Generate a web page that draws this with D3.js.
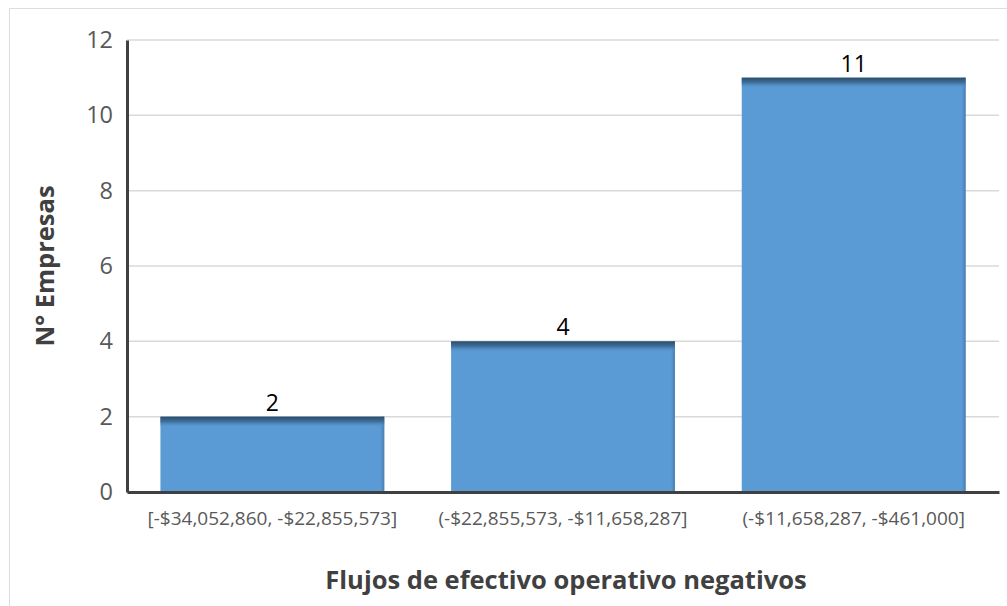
<!DOCTYPE html>
<html>
<head>
<meta charset="utf-8">
<script src="https://cdn.jsdelivr.net/npm/d3@7"></script>
<style>
  body { margin: 0; background: #fff; }
  svg { font-family: "Open Sans", "Noto Sans", sans-serif; }
</style>
</head>
<body>
<div id="chart"></div>
<script>
const categories = ['[-$34,052,860, -$22,855,573]', '(-$22,855,573, -$11,658,287]', '(-$11,658,287, -$461,000]'];
const counts = [2, 4, 11];
const yTicks = [0, 2, 4, 6, 8, 10, 12];
const xTitle = 'Flujos de efectivo operativo negativos';
const yTitle = 'N° Empresas';

const width = 1007,
    height = 606,
    margin = { top: 40, right: 8, bottom: 114, left: 127 },
    innerWidth = width - margin.left - margin.right,
    innerHeight = height - margin.top - margin.bottom;

const svg = d3.select('#chart').append('svg')
    .attr('width', width)
    .attr('height', height);

// outer frame
svg.append('path')
    .attr('d', 'M1007,8.5 H9.5 V606')
    .attr('fill', 'none')
    .attr('stroke', '#d9dee5');

const defs = svg.append('defs');
const topGrad = defs.append('linearGradient')
    .attr('id', 'topGrad').attr('x1', 0).attr('y1', 0).attr('x2', 0).attr('y2', 1);
topGrad.append('stop').attr('offset', '0%').attr('stop-color', '#2d4c69');
topGrad.append('stop').attr('offset', '45%').attr('stop-color', '#3f6f9c');
topGrad.append('stop').attr('offset', '100%').attr('stop-color', '#5b9bd5').attr('stop-opacity', 0);
const sideGrad = defs.append('linearGradient')
    .attr('id', 'sideGrad').attr('x1', 0).attr('y1', 0).attr('x2', 1).attr('y2', 0);
sideGrad.append('stop').attr('offset', '0%').attr('stop-color', '#4a7fb0').attr('stop-opacity', 0);
sideGrad.append('stop').attr('offset', '100%').attr('stop-color', '#4a7fb0');

const g = svg.append('g')
    .attr('transform', 'translate(' + margin.left + ',' + margin.top + ')');

const x = d3.scaleBand()
    .domain(categories)
    .range([0, innerWidth])
    .paddingInner(0.23)
    .paddingOuter(0.115);

const y = d3.scaleLinear()
    .domain([0, 12])
    .range([innerHeight, 0]);

// gridlines
g.append('g')
    .selectAll('line')
    .data(yTicks.filter(d => d > 0))
    .enter().append('line')
    .attr('x1', 0).attr('x2', innerWidth)
    .attr('y1', d => y(d)).attr('y2', d => y(d))
    .attr('stroke', '#d9d9d9')
    .attr('stroke-width', 1.5);

// bars
const bar = g.selectAll('.bar')
    .data(counts)
    .enter().append('g')
    .attr('class', 'bar');

bar.append('rect')
    .attr('x', (d, i) => x(categories[i]))
    .attr('y', d => y(d))
    .attr('width', x.bandwidth())
    .attr('height', d => innerHeight - y(d))
    .attr('fill', '#5b9bd5');

bar.append('rect')
    .attr('x', (d, i) => x(categories[i]) + x.bandwidth() - 4)
    .attr('y', d => y(d))
    .attr('width', 4)
    .attr('height', d => innerHeight - y(d))
    .attr('fill', 'url(#sideGrad)');

bar.append('rect')
    .attr('x', (d, i) => x(categories[i]))
    .attr('y', d => y(d))
    .attr('width', x.bandwidth())
    .attr('height', 11)
    .attr('fill', 'url(#topGrad)');

bar.append('text')
    .attr('x', (d, i) => x(categories[i]) + x.bandwidth() / 2)
    .attr('y', d => y(d) - 6)
    .attr('text-anchor', 'middle')
    .attr('font-size', 23)
    .attr('fill', '#000')
    .text(d => d);

// y axis
const yAxis = g.append('g')
    .call(d3.axisLeft(y).tickValues(yTicks).tickSize(0).tickPadding(14));
yAxis.select('.domain').attr('stroke', '#404040').attr('stroke-width', 3);
yAxis.selectAll('text')
    .attr('font-size', 23.5)
    .attr('fill', '#595959')
    .attr('font-family', '"Open Sans", sans-serif');

// x axis
const xAxis = g.append('g')
    .attr('transform', 'translate(0,' + innerHeight + ')')
    .call(d3.axisBottom(x).tickSize(0).tickPadding(20));
xAxis.select('.domain').attr('stroke', '#404040').attr('stroke-width', 3);
xAxis.selectAll('text')
    .attr('font-size', 19)
    .attr('fill', '#595959')
    .attr('font-family', '"Open Sans", sans-serif');

// axis titles
svg.append('text')
    .attr('x', margin.left + innerWidth / 2 + 3)
    .attr('y', 589)
    .attr('text-anchor', 'middle')
    .attr('font-size', 25.5)
    .attr('font-weight', 'bold')
    .attr('fill', '#404040')
    .text(xTitle);

svg.append('text')
    .attr('transform', 'translate(54,' + (margin.top + innerHeight / 2) + ') rotate(-90)')
    .attr('text-anchor', 'middle')
    .attr('font-size', 25.5)
    .attr('font-weight', 'bold')
    .attr('fill', '#404040')
    .text(yTitle);
</script>
</body>
</html>
